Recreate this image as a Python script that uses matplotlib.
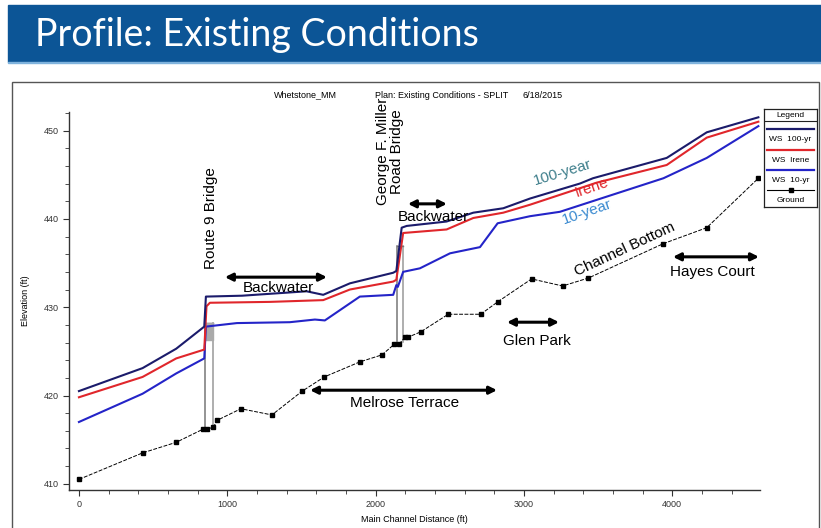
import matplotlib
matplotlib.use('Agg')
from matplotlib import pyplot as plt
from matplotlib.patches import Rectangle
from matplotlib.ticker import MultipleLocator

# ---- data (distance ft, elevation ft) ----
x_100 = [0, 429, 656, 845, 856, 1100, 1535, 1647, 1827, 2119, 2140, 2176, 2210,
         2479, 2659, 2861, 3041, 3378, 3466, 3963, 4233, 4581]
ws_100 = [420.5, 423.1, 425.3, 427.8, 431.2, 431.3, 431.8, 431.4, 432.7, 433.9,
          434.1, 439.0, 439.2, 439.7, 440.7, 441.2, 442.3, 444.0, 444.6, 446.9,
          449.8, 451.5]

x_irene = [0, 429, 656, 845, 860, 883, 1288, 1647, 1827, 2119, 2140, 2186, 2479,
           2659, 2861, 3041, 3491, 3963, 4233, 4581]
ws_irene = [419.8, 422.1, 424.2, 425.2, 430.1, 430.5, 430.6, 430.8, 432.0, 432.9,
            433.1, 438.4, 438.8, 440.1, 440.7, 441.6, 444.1, 446.1, 449.2, 451.0]

x_10 = [0, 429, 656, 845, 856, 1065, 1422, 1591, 1658, 1894, 2119, 2140, 2150,
        2186, 2299, 2502, 2704, 2823, 3041, 3243, 3941, 4233, 4581]
ws_10 = [417.0, 420.2, 422.5, 424.2, 427.8, 428.2, 428.3, 428.6, 428.5, 431.2,
         431.4, 432.5, 432.3, 434.0, 434.4, 436.1, 436.8, 439.5, 440.3, 440.8,
         444.6, 446.9, 450.5]

x_ground = [0, 429, 656, 838, 862, 906, 933, 1092, 1301, 1506, 1654, 1893, 2043,
            2126, 2158, 2198, 2218, 2304, 2490, 2709, 2823, 3052, 3261, 3435,
            3941, 4233, 4581]
ground = [410.5, 413.5, 414.7, 416.2, 416.2, 416.4, 417.2, 418.5, 417.8, 420.5,
          422.1, 423.8, 424.6, 425.8, 425.8, 426.6, 426.6, 427.2, 429.2, 429.2,
          430.6, 433.2, 432.4, 433.3, 437.2, 439.0, 444.6]

# bridges: (upstream face, downstream face, deck top, low chord, ground)
bridge_left = [852, 2142]
bridge_right = [905, 2187]
bridge_top = [428.2, 436.9]
bridge_low = [426.3, 436.9]
bridge_base = [416.2, 425.8]

# reach annotations: (start, end, elevation, label)
reach_x0 = [984, 2218, 1558, 2886, 4005]
reach_x1 = [1672, 2481, 2819, 3237, 4585]
reach_y = [433.4, 441.7, 420.6, 428.3, 435.7]
reach_label = ['Backwater', 'Backwater', 'Melrose Terrace', 'Glen Park', 'Hayes Court']
reach_label_x = [1342, 2387, 2198, 3088, 4268]
reach_label_y = [432.2, 440.2, 419.1, 426.2, 434.0]

C100 = '#1b1b6b'
CIRENE = '#e0262b'
C10 = '#2424c8'

ARIAL = ['Liberation Sans', 'DejaVu Sans']
NARROW = ['Liberation Sans Narrow', 'Liberation Sans', 'DejaVu Sans']

fig = plt.figure(figsize=(8.21, 5.28), dpi=100)
W, H = 821.0, 528.0

# title banner
fig.patches.append(Rectangle((8 / W, 1 - 62 / H), 813 / W, 57 / H,
                             transform=fig.transFigure, color='#0c5596', zorder=0))
fig.patches.append(Rectangle((8 / W, 1 - 63 / H), 813 / W, 1.5 / H,
                             transform=fig.transFigure, color='#7fb3dd', zorder=0))
fig.text(35 / W, 1 - 35 / H, 'Profile: Existing Conditions', color='white',
         fontsize=27, family=['Lato', 'DejaVu Sans'], va='center', ha='left')

# frame around the screenshot
fig.patches.append(Rectangle((12 / W, -0.02), 807 / W, (528 - 82) / H + 0.02,
                             transform=fig.transFigure, fill=False,
                             edgecolor='#555555', lw=1.0, zorder=0))

# header line
fig.text(305 / W, 1 - 95 / H, 'Whetstone_MM', fontsize=6.5, family=NARROW, ha='center', va='center')
fig.text(442 / W, 1 - 95 / H, 'Plan: Existing Conditions - SPLIT', fontsize=6.5, family=NARROW,
         ha='center', va='center')
fig.text(543 / W, 1 - 95 / H, '6/18/2015', fontsize=6.5, family=NARROW, ha='center', va='center')

ax = fig.add_axes([69 / W, 1 - 490 / H, (760 - 69) / W, (490 - 112) / H])
ax.set_xlim(-67, 4592)
ax.set_ylim(409.3, 452.1)
for s in ['top', 'right']:
    ax.spines[s].set_visible(False)
for s in ['left', 'bottom']:
    ax.spines[s].set_linewidth(1.0)
    ax.spines[s].set_color('#333333')
ax.xaxis.set_major_locator(MultipleLocator(1000))
ax.xaxis.set_minor_locator(MultipleLocator(200))
ax.yaxis.set_major_locator(MultipleLocator(10))
ax.yaxis.set_minor_locator(MultipleLocator(2))
ax.tick_params(which='both', labelsize=6.5, colors='#333333', direction='out')
ax.tick_params(which='major', length=4, width=0.8)
ax.tick_params(which='minor', length=3, width=0.6)
for lab in ax.get_xticklabels() + ax.get_yticklabels():
    lab.set_family(NARROW)
ax.set_xlabel('Main Channel Distance (ft)', fontsize=6.5, family=NARROW, labelpad=4)
ax.set_ylabel('Elevation (ft)', fontsize=6.5, family=NARROW, labelpad=10)

# bridges
for i in range(len(bridge_left)):
    ax.plot([bridge_left[i]] * 2, [bridge_base[i], bridge_top[i]], color='#777777', lw=1.1, zorder=2)
    ax.plot([bridge_right[i]] * 2, [bridge_base[i] + 0.3, bridge_top[i]], color='#999999', lw=1.1, zorder=2)
    ax.plot([bridge_left[i], bridge_right[i]], [bridge_top[i]] * 2, color='#777777', lw=1.0, zorder=2)
    if bridge_low[i] < bridge_top[i]:
        ax.fill_between([bridge_left[i], bridge_right[i]], bridge_low[i], bridge_top[i],
                        color='#aaaaaa', zorder=2)

ax.plot(x_ground, ground, color='black', lw=0.7, ls=(0, (4, 1.5)), marker='s',
        ms=3, zorder=3)
ax.plot(x_10, ws_10, color=C10, lw=1.5, zorder=4)
ax.plot(x_irene, ws_irene, color=CIRENE, lw=1.5, zorder=4)
ax.plot(x_100, ws_100, color=C100, lw=1.5, zorder=5)

# reach arrows and labels
for x0, x1, y, lab, lx, ly in zip(reach_x0, reach_x1, reach_y, reach_label,
                                  reach_label_x, reach_label_y):
    ax.annotate('', xy=(x1, y), xytext=(x0, y),
                arrowprops=dict(arrowstyle='<|-|>', lw=2.2, color='black',
                                mutation_scale=11, shrinkA=0, shrinkB=0), zorder=6)
    ax.text(lx, ly, lab, fontsize=11, family=ARIAL, ha='center', va='center', zorder=6)

ax.text(890, 440.1, 'Route 9 Bridge', rotation=90, fontsize=11, family=ARIAL,
        ha='center', va='center')
ax.text(2095, 447.6, 'George F. Miller\nRoad Bridge', rotation=90, fontsize=11,
        family=ARIAL, ha='center', va='center', linespacing=1.0)

ax.text(3264, 445.3, '100-year', rotation=17, fontsize=11, family=ARIAL, color='#3f7f8c',
        ha='center', va='center')
ax.text(3459, 443.6, 'Irene', rotation=19, fontsize=11, family=ARIAL, color=CIRENE,
        ha='center', va='center')
ax.text(3425, 440.8, '10-year', rotation=19, fontsize=11, family=ARIAL, color='#3a8ad0',
        ha='center', va='center')
ax.text(3682, 436.5, 'Channel Bottom', rotation=25, fontsize=11, family=ARIAL,
        ha='center', va='center')

# legend box drawn like the HEC-RAS one
lax = fig.add_axes([764 / W, 1 - 207 / H, 53 / W, 98 / H])
lax.set_xlim(0, 1)
lax.set_ylim(207, 109)
lax.set_xticks([])
lax.set_yticks([])
for s in lax.spines.values():
    s.set_linewidth(0.9)
    s.set_color('#222222')
lax.text(0.5, 115.5, 'Legend', fontsize=6, family=NARROW, ha='center', va='center')
lax.plot([0, 1], [121, 121], color='#222222', lw=0.8)
leg_rows = [129, 150, 170, 190]
leg_colors = [C100, CIRENE, C10, 'black']
leg_names = ['WS  100-yr', 'WS  Irene', 'WS  10-yr', 'Ground']
for r, c, n in zip(leg_rows, leg_colors, leg_names):
    if n == 'Ground':
        lax.plot([0.06, 0.94], [r, r], color=c, lw=0.8)
        lax.plot([0.5], [r], color=c, marker='s', ms=3)
    else:
        lax.plot([0.06, 0.94], [r, r], color=c, lw=1.6)
    lax.text(0.5, r + 10.5, n, fontsize=6, family=NARROW, ha='center', va='center')

fig.savefig('out.png', dpi=100)
